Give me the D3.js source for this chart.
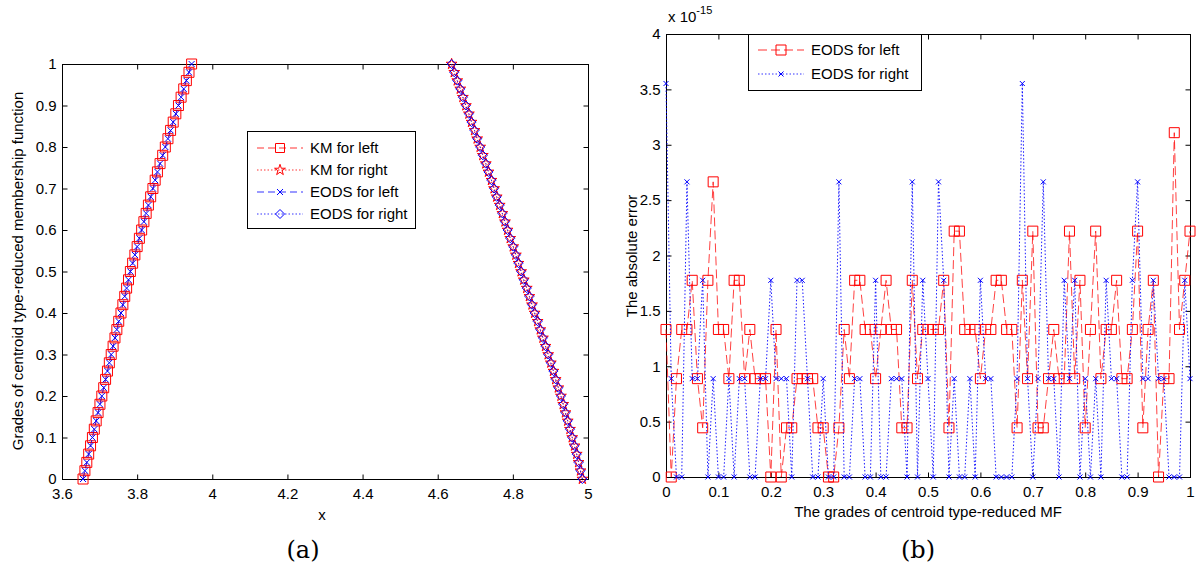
<!DOCTYPE html>
<html><head><meta charset="utf-8">
<script src="https://cdn.jsdelivr.net/npm/d3@7"></script>
<style>
body{margin:0;background:#fff}
svg{display:block}
text{font-family:"Liberation Sans",Arial,Helvetica,sans-serif;fill:#000}
</style>
</head><body>
<svg id="c" width="1200" height="572"></svg>
<script>
// ---------- Panel (a) data ----------
const gradesA = [0,0.02,0.04,0.06,0.08,0.1,0.12,0.14,0.16,0.18,0.2,0.22,0.24,0.26,0.28,0.3,0.32,0.34,0.36,0.38,0.4,0.42,0.44,0.46,0.48,0.5,0.52,0.54,0.56,0.58,0.6,0.62,0.64,0.66,0.68,0.7,0.72,0.74,0.76,0.78,0.8,0.82,0.84,0.86,0.88,0.9,0.92,0.94,0.96,0.98,1];
const kmLeft = [3.656,3.661,3.666,3.671,3.676,3.681,3.686,3.691,3.696,3.701,3.706,3.711,3.716,3.721,3.726,3.731,3.736,3.741,3.746,3.751,3.757,3.762,3.767,3.772,3.777,3.782,3.788,3.794,3.800,3.806,3.812,3.818,3.824,3.830,3.836,3.842,3.848,3.854,3.861,3.868,3.875,3.882,3.889,3.896,3.903,3.910,3.917,3.924,3.931,3.938,3.945];
const kmRight = [4.985,4.980,4.975,4.970,4.964,4.958,4.952,4.946,4.940,4.934,4.928,4.921,4.914,4.908,4.901,4.894,4.887,4.880,4.873,4.866,4.858,4.851,4.844,4.837,4.829,4.822,4.815,4.808,4.801,4.793,4.786,4.779,4.772,4.765,4.757,4.750,4.743,4.735,4.728,4.720,4.713,4.705,4.698,4.690,4.683,4.675,4.667,4.660,4.652,4.644,4.637];
const eodsLeft = [3.656,3.661,3.666,3.671,3.676,3.681,3.686,3.691,3.696,3.701,3.706,3.711,3.716,3.721,3.726,3.731,3.736,3.741,3.746,3.751,3.757,3.762,3.767,3.772,3.777,3.782,3.788,3.794,3.800,3.806,3.812,3.818,3.824,3.830,3.836,3.842,3.848,3.854,3.861,3.868,3.875,3.882,3.889,3.896,3.903,3.910,3.917,3.924,3.931,3.938,3.945];
const eodsRight = [4.985,4.980,4.975,4.970,4.964,4.958,4.952,4.946,4.940,4.934,4.928,4.921,4.914,4.908,4.901,4.894,4.887,4.880,4.873,4.866,4.858,4.851,4.844,4.837,4.829,4.822,4.815,4.808,4.801,4.793,4.786,4.779,4.772,4.765,4.757,4.750,4.743,4.735,4.728,4.720,4.713,4.705,4.698,4.690,4.683,4.675,4.667,4.660,4.652,4.644,4.637];
const ticksAX = [3.6,3.8,4,4.2,4.4,4.6,4.8,5];
const ticksAY = [0,0.1,0.2,0.3,0.4,0.5,0.6,0.7,0.8,0.9,1];

// ---------- Panel (b) data (values in units of 1e-15) ----------
const gradesB = [0,0.01,0.02,0.03,0.04,0.05,0.06,0.07,0.08,0.09,0.1,0.11,0.12,0.13,0.14,0.15,0.16,0.17,0.18,0.19,0.2,0.21,0.22,0.23,0.24,0.25,0.26,0.27,0.28,0.29,0.3,0.31,0.32,0.33,0.34,0.35,0.36,0.37,0.38,0.39,0.4,0.41,0.42,0.43,0.44,0.45,0.46,0.47,0.48,0.49,0.5,0.51,0.52,0.53,0.54,0.55,0.56,0.57,0.58,0.59,0.6,0.61,0.62,0.63,0.64,0.65,0.66,0.67,0.68,0.69,0.7,0.71,0.72,0.73,0.74,0.75,0.76,0.77,0.78,0.79,0.8,0.81,0.82,0.83,0.84,0.85,0.86,0.87,0.88,0.89,0.9,0.91,0.92,0.93,0.94,0.95,0.96,0.97,0.98,0.99,1];
const errLeft = [1.332,0,0.888,1.332,1.332,1.776,0.888,0.444,1.776,2.665,
 1.332,1.332,0.888,1.776,1.776,0.888,1.332,0.888,0.888,0.888,
 0,1.332,0,0.444,0.444,0.888,0.888,0.888,0.888,0.444,
 0.444,0,0,0.444,1.332,0.888,1.776,1.776,1.332,1.332,
 0.888,1.332,1.776,1.332,1.332,0.444,0.444,1.776,0.888,1.332,
 1.332,1.332,1.332,1.776,0.444,2.22,2.22,1.332,1.332,1.332,
 0.888,1.332,1.332,1.776,1.776,1.332,1.332,0.444,1.776,0.888,
 2.22,0.444,0.444,0.888,1.332,0.888,0.888,2.22,0.888,1.776,
 0.444,1.332,2.22,0.888,1.332,1.332,1.776,0.888,0.888,1.332,
 2.22,0.444,1.332,1.776,0,0.888,0.888,3.109,1.332,1.776,2.22];
const errRight = [3.553,0.888,0,0,2.665,0.888,0.888,1.776,0,0.888,
 0,0,0.888,0,0.888,0.888,0,0,0.888,0.888,
 1.776,0.888,0.888,0.888,0,1.776,1.776,0.888,0,0,
 0.888,0,0,2.665,0,0,0.888,0.888,0,0,
 1.776,0,0,0.888,0.888,0.888,0,2.665,0,1.776,
 0.888,0,2.665,1.776,0,0.888,0,0,0.888,0,
 1.776,0.888,0.888,0,0,0,0,0.888,3.553,0.888,
 0,0.888,2.665,0.888,0.888,0,1.776,0.888,1.776,0,
 0.888,0,0.888,0,1.776,0.888,0.888,0,0,1.776,
 2.665,0.888,0.888,1.776,0.888,0.888,0,0,0,1.776,0.888];
const ticksBX = [0,0.1,0.2,0.3,0.4,0.5,0.6,0.7,0.8,0.9,1];
const ticksBY = [0,0.5,1,1.5,2,2.5,3,3.5,4];

// ---------- drawing ----------
const svg = d3.select("#c");
const RED = "#ff0000", BLUE = "#0000ff";
const fmt = d => String(+d.toFixed(3));

const boxA = {l:62, r:588, t:64, b:479};
const boxB = {l:666, r:1190, t:34, b:477};
const xA = d3.scaleLinear().domain([3.6,5]).range([boxA.l, boxA.r]);
const yA = d3.scaleLinear().domain([0,1]).range([boxA.b, boxA.t]);
const xB = d3.scaleLinear().domain([0,1]).range([boxB.l, boxB.r]);
const yB = d3.scaleLinear().domain([0,4]).range([boxB.b, boxB.t]);

// marker shapes
const mk = {
  square: s => `M${-s/2},${-s/2}h${s}v${s}h${-s}Z`,
  cross: s => `M${-s/2},${-s/2}L${s/2},${s/2}M${-s/2},${s/2}L${s/2},${-s/2}`,
  diamond: s => `M0,${-s/2}L${s/2},0L0,${s/2}L${-s/2},0Z`,
  star: s => d3.symbol(d3.symbolStar, s*s*0.45)()
};

function axes(box, xs, ys, xt, yt) {
  const g = svg.append("g");
  g.append("rect").attr("x", box.l+0.5).attr("y", box.t+0.5)
    .attr("width", box.r-box.l).attr("height", box.b-box.t)
    .attr("fill","none").attr("stroke","#000").attr("stroke-width",1);
  const st = sel => { sel.select(".domain").remove();
    sel.selectAll("line").attr("stroke","#000");
    sel.selectAll("text").style("font-size","15px").attr("fill","#000")
      .style("font-family",'"Liberation Sans",Arial,sans-serif'); };
  g.append("g").attr("transform",`translate(0,${box.b+0.5})`)
    .call(d3.axisBottom(xs).tickValues(xt).tickSize(-5).tickPadding(9).tickFormat(fmt)).call(st);
  g.append("g").attr("transform",`translate(0,${box.t+0.5})`)
    .call(d3.axisTop(xs).tickValues(xt).tickSize(-5).tickFormat("")).call(st);
  g.append("g").attr("transform",`translate(${box.l+0.5},0)`)
    .call(d3.axisLeft(ys).tickValues(yt).tickSize(-5).tickPadding(6).tickFormat(fmt)).call(st);
  g.append("g").attr("transform",`translate(${box.r+0.5},0)`)
    .call(d3.axisRight(ys).tickValues(yt).tickSize(-5).tickFormat("")).call(st);
}

function series(xs, ys, xv, yv, color, dash, shape, size, lineOp) {
  const pts = xv.map((v,i)=>[v, yv[i]]);
  const g = svg.append("g");
  g.append("path").datum(pts)
    .attr("d", d3.line().x(d=>xs(d[0])).y(d=>ys(d[1])))
    .attr("fill","none").attr("stroke",color).attr("stroke-width",1)
    .attr("stroke-opacity", lineOp).attr("stroke-dasharray", dash);
  g.selectAll("path.m").data(pts).join("path").attr("class","m")
    .attr("transform", d=>`translate(${xs(d[0])},${ys(d[1])})`)
    .attr("d", mk[shape](size))
    .attr("fill","none").attr("stroke",color).attr("stroke-width",1);
}

function legend(x, y, w, h, items) {
  const g = svg.append("g");
  g.append("rect").attr("x",x+0.5).attr("y",y+0.5).attr("width",w).attr("height",h)
    .attr("fill","#fff").attr("stroke","#000").attr("stroke-width",1);
  items.forEach(it => {
    g.append("line").attr("x1",x+10).attr("x2",x+56).attr("y1",it.y).attr("y2",it.y)
      .attr("stroke",it.color).attr("stroke-dasharray",it.dash).attr("stroke-opacity",0.8);
    g.append("path").attr("transform",`translate(${x+33},${it.y})`).attr("d",mk[it.shape](it.size))
      .attr("fill","none").attr("stroke",it.color);
    g.append("text").attr("x",x+63).attr("y",it.y+5).style("font-size","15px").text(it.label);
  });
}

// ----- Panel (a) -----
axes(boxA, xA, yA, ticksAX, ticksAY);
series(xA, yA, kmLeft, gradesA, RED, "7,4", "square", 10, 0.7);
series(xA, yA, kmRight, gradesA, RED, "1.5,2", "star", 9, 0.8);
series(xA, yA, eodsLeft, gradesA, BLUE, "7,4", "cross", 6, 0.7);
series(xA, yA, eodsRight, gradesA, BLUE, "1.5,2", "diamond", 9, 0.8);
legend(247, 131, 168, 97, [
  {y:148, color:RED, dash:"7,4", shape:"square", size:9, label:"KM for left"},
  {y:170, color:RED, dash:"1.5,2", shape:"star", size:9, label:"KM for right"},
  {y:192, color:BLUE, dash:"7,4", shape:"cross", size:6, label:"EODS for left"},
  {y:214, color:BLUE, dash:"1.5,2", shape:"diamond", size:9, label:"EODS for right"}
]);
svg.append("text").attr("x",322).attr("y",520).attr("text-anchor","middle").style("font-size","15px").text("x");
svg.append("text").attr("transform","translate(23,271) rotate(-90)").attr("text-anchor","middle")
  .style("font-size","15px").text("Grades of centroid type-reduced membership function");
svg.append("text").attr("x",303).attr("y",558).attr("text-anchor","middle")
  .style("font-family",'"DejaVu Serif",serif').style("font-size","24px").text("(a)");

// ----- Panel (b) -----
axes(boxB, xB, yB, ticksBX, ticksBY);
series(xB, yB, gradesB, errLeft, RED, "9,4", "square", 10, 0.75);
series(xB, yB, gradesB, errRight, BLUE, "1.5,2", "cross", 5, 0.9);
legend(748, 34, 173, 56, [
  {y:50, color:RED, dash:"9,4", shape:"square", size:10, label:"EODS for left"},
  {y:74, color:BLUE, dash:"1.5,2", shape:"cross", size:5, label:"EODS for right"}
]);
svg.append("text").attr("x",668).attr("y",22).style("font-size","15px")
  .text("x 10").append("tspan").attr("dy",-8).style("font-size","11px").text("-15");
svg.append("text").attr("x",928).attr("y",517).attr("text-anchor","middle").style("font-size","15px")
  .text("The grades of centroid type-reduced MF");
svg.append("text").attr("transform","translate(637,256) rotate(-90)").attr("text-anchor","middle")
  .style("font-size","15px").text("The absolute error");
svg.append("text").attr("x",918).attr("y",558).attr("text-anchor","middle")
  .style("font-family",'"DejaVu Serif",serif').style("font-size","24px").text("(b)");
</script>
</body></html>
